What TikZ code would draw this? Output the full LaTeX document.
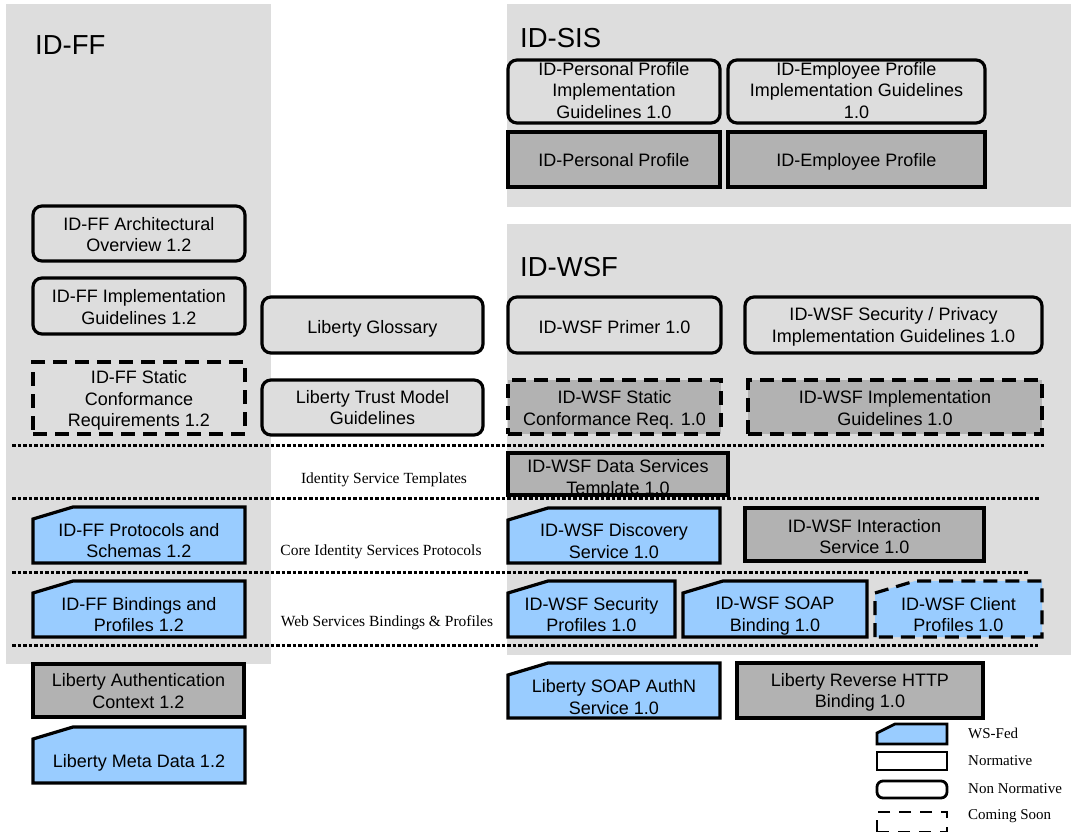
\documentclass[tikz,border=0pt]{standalone}
\usepackage{fontspec}
\setmainfont{Liberation Sans}
\newfontfamily\seriffont{Liberation Serif}
\definecolor{panel}{HTML}{DDDDDD}
\definecolor{norm}{HTML}{B2B2B2}
\definecolor{wsblue}{HTML}{99CCFF}
\tikzset{
  boxtext/.style={align=center, inner sep=0pt, font=\fontsize{18}{21.5}\selectfont,
    execute at begin node=\strut, execute at end node=\strut},
  base/.style={draw=black, line width=3.2pt, inner sep=0pt},
  normbox/.style={base, fill=norm},
  nonnorm/.style={base, fill=panel, rounded corners=9pt},
  soonbox/.style={base, dash pattern=on 14pt off 8pt},
  wsshape/.style={draw=black, fill=wsblue, line width=3.2pt},
  sepline/.style={line width=3pt, dash pattern=on 3.5pt off 2pt},
  layer/.style={font=\seriffont\fontsize{15.5}{18}\selectfont, inner sep=0pt},
  legtext/.style={font=\seriffont\fontsize{15}{18}\selectfont, inner sep=0pt, anchor=west},
  paneltitle/.style={font=\fontsize{27.5}{32}\selectfont, anchor=base west, inner sep=0pt},
}
% style, name, x1, y1, x2, y2, text, text offset
\newcommand\docbox[8]{%
  \node[#1, minimum width={#5-#3}, minimum height={#6-#4}] (#2) at ({(#3+#5)/2},{(#4+#6)/2}) {};
  \node[boxtext] (#2-t) at ({(#3+#5)/2},{(#4+#6)/2+#8}) {#7};}
\newcommand\wsbox[8]{%
  \path[wsshape,#1] (#3,#6) -- (#3,{#4+12}) -- ({#3+40},#4) -- (#5,#4) -- (#5,#6) -- cycle;
  \node[boxtext] (#2) at ({(#3+#5)/2},{(#4+#6)/2+#8}) {#7};}
\begin{document}
\begin{tikzpicture}[x=1pt,y=-1pt]
\useasboundingbox (0,0) rectangle (1071,831);
% panels
\fill[panel] (6,4) rectangle (271,664);
\fill[panel] (507,4) rectangle (1071,207);
\fill[panel] (507,224) rectangle (1071,655);
\node[paneltitle] (tff) at (35,54) {ID-FF};
\node[paneltitle] (tsis) at (520,47) {ID-SIS};
\node[paneltitle] (twsf) at (520,276) {ID-WSF};
% ID-SIS
\docbox{nonnorm}{ppimpl}{508}{60}{720}{123}{ID-Personal Profile\\Implementation\\Guidelines 1.0}{2}
\docbox{nonnorm}{epimpl}{728}{60}{985}{123}{ID-Employee Profile\\Implementation Guidelines\\1.0}{2}
\docbox{normbox}{pp}{508}{132}{720}{187}{ID-Personal Profile}{3}
\docbox{normbox}{ep}{728}{132}{985}{187}{ID-Employee Profile}{3}
% ID-FF column
\docbox{nonnorm}{ffarch}{33}{206}{245}{261}{ID-FF Architectural\\Overview 1.2}{4}
\docbox{nonnorm}{ffimpl}{33}{278}{245}{334}{ID-FF Implementation\\Guidelines 1.2}{4}
\docbox{soonbox}{ffstatic}{33}{362}{245}{434}{ID-FF Static\\Conformance\\Requirements 1.2}{4}
% middle
\docbox{nonnorm}{gloss}{262}{297}{483}{353}{Liberty Glossary}{4}
\docbox{nonnorm}{trust}{262}{380}{483}{435}{Liberty Trust Model\\Guidelines}{3}
% ID-WSF
\docbox{nonnorm}{primer}{508}{297}{721}{353}{ID-WSF Primer 1.0}{4}
\docbox{nonnorm}{secpriv}{745}{297}{1042}{353}{ID-WSF Security / Privacy\\Implementation Guidelines 1.0}{3}
\docbox{soonbox, fill=norm}{wsfstatic}{508}{380}{721}{434}{ID-WSF Static\\Conformance Req. 1.0}{4}
\docbox{soonbox, fill=norm}{wsfimpl}{748}{380}{1042}{434}{ID-WSF Implementation\\Guidelines 1.0}{4}
\docbox{normbox}{dst}{508}{453}{728}{495}{ID-WSF Data Services\\Template 1.0}{6}
% protocols row
\wsbox{}{ffproto}{33}{507}{245}{563}{ID-FF Protocols and\\Schemas 1.2}{8.5}
\wsbox{}{wsfdisc}{508}{508}{720}{563}{ID-WSF Discovery\\Service 1.0}{8.5}
\docbox{normbox}{wsfinter}{745}{508}{984}{561}{ID-WSF Interaction\\Service 1.0}{5}
% bindings row
\wsbox{}{ffbind}{33}{581}{245}{637}{ID-FF Bindings and\\Profiles 1.2}{8.5}
\wsbox{}{wsfsec}{508}{581}{675}{637}{ID-WSF Security\\Profiles 1.0}{8.5}
\wsbox{}{wsfsoap}{683}{581}{867}{637}{ID-WSF SOAP\\Binding 1.0}{8.5}
\wsbox{dash pattern=on 14pt off 8pt}{wsfclient}{875}{581}{1042}{637}{ID-WSF Client\\Profiles 1.0}{8.5}
% outside panels
\docbox{normbox}{authctx}{33}{664}{244}{717}{Liberty Authentication\\Context 1.2}{3.5}
\wsbox{}{meta}{33}{727}{245}{783}{Liberty Meta Data 1.2}{8}
\wsbox{}{soapauthn}{508}{663}{720}{718}{Liberty SOAP AuthN\\Service 1.0}{9.5}
\docbox{normbox}{revhttp}{737}{663}{983}{718}{Liberty Reverse HTTP\\Binding 1.0}{3}
% layer labels
\node[layer] (ist) at (384,480) {Identity Service Templates};
\node[layer] (cisp) at (381,552) {Core Identity Services Protocols};
\node[layer] (wsbp) at (387,623) {Web Services Bindings \& Profiles};
% separators
\coordinate (s1a) at (12,445); \coordinate (s1b) at (1045,445);
\coordinate (s2a) at (12,498); \coordinate (s2b) at (1040,498);
\coordinate (s3a) at (12,572); \coordinate (s3b) at (1028,572);
\coordinate (s4a) at (12,645); \coordinate (s4b) at (1038,645);
\draw[sepline] (s1a) -- (s1b);
\draw[sepline] (s2a) -- (s2b);
\draw[sepline] (s3a) -- (s3b);
\draw[sepline] (s4a) -- (s4b);
% legend
\path[wsshape, line width=2.8pt] (877,744) -- (877,733) -- (895,724) -- (947,724) -- (947,744) -- cycle;
\node[legtext] (lws) at (968,733) {WS-Fed};
\docbox{base, fill=white, line width=2.8pt}{lnorm}{877}{752}{947}{770}{}{0}
\node[legtext] (lnt) at (968,761) {Normative};
\docbox{base, fill=white, line width=2.8pt, rounded corners=6pt}{lnon}{877}{781}{947}{798}{}{0}
\node[legtext] (lnnt) at (968,789) {Non Normative};
\docbox{base, line width=2.8pt, dash pattern=on 12pt off 9pt}{lsoon}{877}{812}{947}{832}{}{0}
\node[legtext] (lst) at (968,816) {Coming Soon};
\end{tikzpicture}
\end{document}
